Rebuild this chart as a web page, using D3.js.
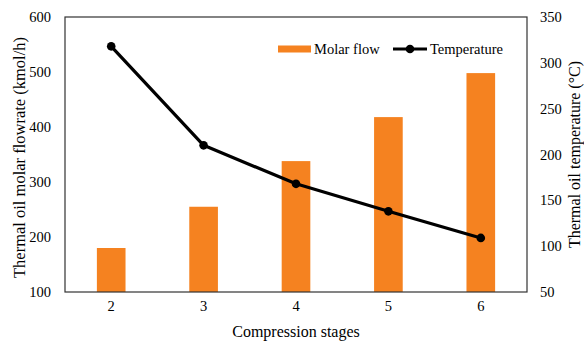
<!DOCTYPE html>
<html>
<head>
<meta charset="utf-8">
<script src="https://cdn.jsdelivr.net/npm/d3@7"></script>
<style>
body{margin:0;background:#fff;}
text{font-family:"Liberation Serif","Times New Roman",serif;fill:#000;}
</style>
</head>
<body>
<svg id="chart" width="584" height="342"></svg>
<script>
const stages = ["2","3","4","5","6"];
const molarFlow = [180, 255, 338, 418, 498];
const temperature = [318, 210, 168, 138, 109];
const leftTicks = [100, 200, 300, 400, 500, 600];
const rightTicks = [50, 100, 150, 200, 250, 300, 350];

const W = 584, H = 342;
const m = {left: 65, right: 57, top: 17, bottom: 50};
const svg = d3.select("#chart");
const iw = W - m.left - m.right, ih = H - m.top - m.bottom;
const g = svg.append("g").attr("transform", `translate(${m.left},${m.top})`);

const x = d3.scaleBand().domain(stages).range([0, iw]).paddingInner(0.69).paddingOuter(0.345);
const yL = d3.scaleLinear().domain([100, 600]).range([ih, 0]);
const yR = d3.scaleLinear().domain([50, 350]).range([ih, 0]);

// bars
g.selectAll("rect.bar").data(stages).join("rect")
  .attr("class","bar")
  .attr("x", d => x(d))
  .attr("width", x.bandwidth())
  .attr("y", (d,i) => yL(molarFlow[i]))
  .attr("height", (d,i) => ih - yL(molarFlow[i]))
  .attr("fill", "#F58220");

// line
const cx = d => x(d) + x.bandwidth()/2;
const line = d3.line().x((d,i) => cx(stages[i])).y(d => yR(d));
g.append("path").datum(temperature)
  .attr("d", line).attr("fill","none").attr("stroke","#000").attr("stroke-width",3.2)
  .attr("stroke-linejoin","round");
g.selectAll("circle.pt").data(temperature).join("circle")
  .attr("class","pt")
  .attr("cx", (d,i) => cx(stages[i])).attr("cy", d => yR(d)).attr("r", 4.3).attr("fill","#000");

// frame
g.append("rect").attr("x",0).attr("y",0).attr("width",iw).attr("height",ih)
  .attr("fill","none").attr("stroke","#333").attr("stroke-width",1.2);

// axes
const fs = "14.5px";
const ax = g.append("g").attr("transform",`translate(0,${ih})`)
  .call(d3.axisBottom(x).tickSize(0).tickPadding(9));
const al = g.append("g").call(d3.axisLeft(yL).tickValues(leftTicks).tickSize(0).tickPadding(14));
const ar = g.append("g").attr("transform",`translate(${iw},0)`)
  .call(d3.axisRight(yR).tickValues(rightTicks).tickSize(0).tickPadding(13));
[ax, al, ar].forEach(a => {
  a.select(".domain").remove();
  a.selectAll("text").style("font-family",'"Liberation Serif","Times New Roman",serif').style("font-size",fs).attr("fill","#000");
});

// axis titles
svg.append("text").attr("x", m.left + iw/2).attr("y", 337)
  .attr("text-anchor","middle").style("font-size","16px").text("Compression stages");
svg.append("text").attr("transform",`translate(25,${m.top+ih/2 + 3}) rotate(-90)`)
  .attr("text-anchor","middle").style("font-size","16.5px").text("Thermal oil molar flowrate (kmol/h)");
svg.append("text").attr("transform",`translate(580,${m.top+ih/2}) rotate(-90)`)
  .attr("text-anchor","middle").style("font-size","16px").text("Thermal oil temperature (°C)");

// legend
const lg = svg.append("g");
lg.append("rect").attr("x",278).attr("y",45.5).attr("width",33).attr("height",7).attr("fill","#F58220");
lg.append("text").attr("x",314).attr("y",54).style("font-size","14.5px").text("Molar flow");
lg.append("line").attr("x1",393).attr("x2",427).attr("y1",49).attr("y2",49).attr("stroke","#000").attr("stroke-width",3.2);
lg.append("circle").attr("cx",410).attr("cy",49).attr("r",4.3).attr("fill","#000");
lg.append("text").attr("x",430).attr("y",54).style("font-size","14.5px").text("Temperature");
</script>
</body>
</html>
